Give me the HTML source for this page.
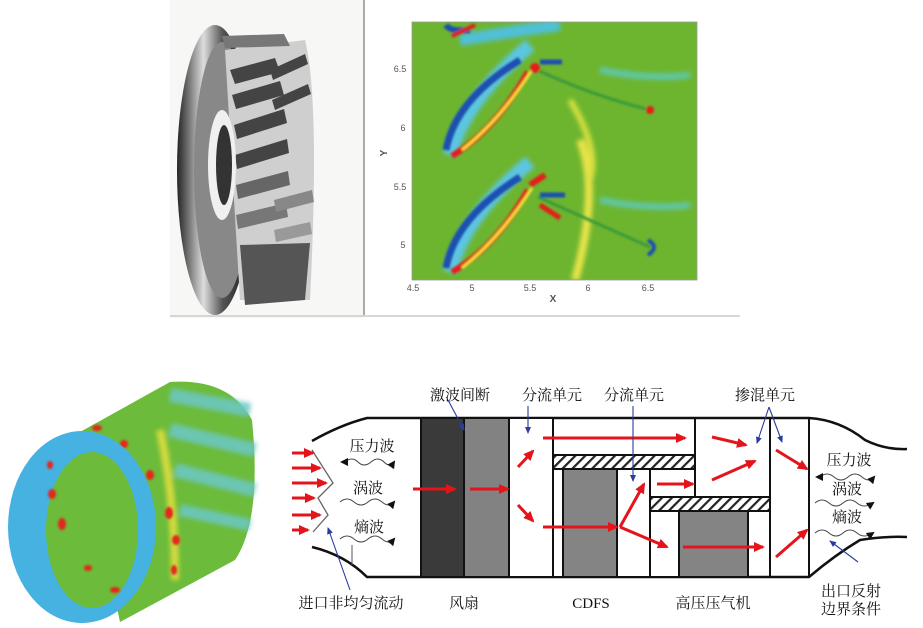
<!DOCTYPE html>
<html><head><meta charset="utf-8"><style>
html,body{margin:0;padding:0;background:#fff;}
svg{display:block;}
text{font-family:"Liberation Serif","Noto Serif CJK SC","Noto Sans CJK SC",serif;}
</style></head><body>
<svg width="923" height="628" viewBox="0 0 923 628" xmlns="http://www.w3.org/2000/svg">
<defs>
<filter id="bl" x="-20%" y="-20%" width="140%" height="140%"><feGaussianBlur stdDeviation="2.5"/></filter>
<filter id="bl2" x="-20%" y="-20%" width="140%" height="140%"><feGaussianBlur stdDeviation="1"/></filter>
<pattern id="hatch" width="7" height="7" patternUnits="userSpaceOnUse" patternTransform="rotate(45)">
<rect width="7" height="7" fill="#fff"/><rect width="2.2" height="7" fill="#222"/></pattern>
<marker id="ra" markerWidth="11" markerHeight="10" refX="9" refY="5" orient="auto" markerUnits="userSpaceOnUse"><path d="M0,0 L11,5 L0,10 z" fill="#e4141c"/></marker>
<marker id="ba" markerWidth="8" markerHeight="8" refX="6" refY="4" orient="auto" markerUnits="userSpaceOnUse"><path d="M0,1 L7,4 L0,7 z" fill="#2a3c9c"/></marker>
<marker id="ka" markerWidth="8" markerHeight="8" refX="6" refY="4" orient="auto" markerUnits="userSpaceOnUse"><path d="M0,0 L8,4 L0,8 z" fill="#111"/></marker>
<linearGradient id="tg" x1="0" x2="1"><stop offset="0" stop-color="#222"/><stop offset=".35" stop-color="#ddd"/><stop offset=".6" stop-color="#555"/><stop offset="1" stop-color="#111"/></linearGradient>
</defs>

<!-- TYRE / ROTOR IMAGE -->
<rect x="170" y="0" width="194" height="318" fill="#f7f7f5"/>
<line x1="364" y1="0" x2="364" y2="315" stroke="#aaa" stroke-width="2"/>
<line x1="170" y1="316" x2="740" y2="316" stroke="#ccc" stroke-width="1.5"/>
<g>
<ellipse cx="215" cy="170" rx="38" ry="145" fill="url(#tg)"/>
<ellipse cx="222" cy="170" rx="28" ry="128" fill="#888"/>
<path d="M225 50 L305 40 Q320 100 310 300 L240 300 Z" fill="#cfcfcf"/>
<g fill="#444">
<path d="M230 70 l45 -12 l5 14 l-45 12z"/><path d="M232 95 l48 -14 l4 14 l-48 14z"/>
<path d="M234 125 l50 -16 l3 14 l-50 16z"/><path d="M235 155 l52 -16 l2 14 l-52 16z"/>
<path d="M236 185 l52 -14 l2 14 l-52 14z" fill="#666"/><path d="M236 215 l50 -12 l2 14 l-50 12z" fill="#777"/>
<path d="M270 70 l35 -16 l3 10 l-35 16z"/><path d="M272 100 l36 -16 l3 10 l-36 16z"/>
<path d="M274 200 l38 -10 l2 12 l-38 10z" fill="#888"/><path d="M274 230 l36 -8 l2 12 l-36 8z" fill="#999"/>
</g>
<path d="M222 36 L284 34 L290 46 L225 48 Z" fill="#777"/>
<path d="M240 245 L310 243 L305 300 L245 305 Z" fill="#555"/>
<ellipse cx="222" cy="165" rx="14" ry="55" fill="#f0f0f0"/>
<ellipse cx="224" cy="165" rx="8" ry="40" fill="#333"/>
</g>

<!-- CFD CONTOUR PLOT -->
<clipPath id="cp"><rect x="412" y="22" width="285" height="258"/></clipPath>
<rect x="412" y="22" width="285" height="258" fill="#6db52f"/>
<g clip-path="url(#cp)">
<g filter="url(#bl)">
<path d="M460 40 Q520 30 560 25" stroke="#4fc0d8" stroke-width="12" fill="none"/>
<path d="M580 140 Q600 190 575 280" stroke="#e8e44a" stroke-width="8" fill="none"/>
<path d="M570 100 Q600 150 590 180" stroke="#d8e040" stroke-width="6" fill="none"/>
<path d="M600 70 Q650 80 690 75" stroke="#5ec8b0" stroke-width="6" fill="none"/>
<path d="M600 200 Q650 210 690 205" stroke="#5ec8b0" stroke-width="6" fill="none"/>
<path d="M450 155 Q465 100 530 45" stroke="#5cc6e2" stroke-width="14" fill="none"/>
<path d="M450 272 Q465 215 530 162" stroke="#5cc6e2" stroke-width="14" fill="none"/>
</g>
<g filter="url(#bl2)">
<path d="M446 150 Q455 100 520 60" stroke="#1b4fb0" stroke-width="7" fill="none"/>
<path d="M452 156 Q495 130 528 72" stroke="#e61c1c" stroke-width="6" fill="none"/>
<path d="M462 150 Q500 120 532 70" stroke="#f7e23a" stroke-width="3" fill="none"/>
<path d="M533 68 Q590 95 650 110" stroke="#3a9a3a" stroke-width="3" fill="none"/>
<path d="M540 62 L562 62" stroke="#1b4fb0" stroke-width="5"/>
<circle cx="535" cy="68" r="5" fill="#e61c1c"/>
<circle cx="650" cy="110" r="4" fill="#e61c1c"/>
<path d="M446 268 Q455 218 520 177" stroke="#1b4fb0" stroke-width="7" fill="none"/>
<path d="M452 272 Q495 248 528 190" stroke="#e61c1c" stroke-width="6" fill="none"/>
<path d="M462 268 Q500 238 532 188" stroke="#f7e23a" stroke-width="3" fill="none"/>
<path d="M538 197 Q590 220 650 247" stroke="#3a9a3a" stroke-width="3" fill="none"/>
<path d="M540 195 L565 195" stroke="#1b4fb0" stroke-width="5"/>
<path d="M540 205 L560 218" stroke="#e61c1c" stroke-width="5"/>
<path d="M530 185 L545 175" stroke="#e61c1c" stroke-width="6"/>
<path d="M648 240 Q660 247 648 255" stroke="#1b4fb0" stroke-width="4" fill="none"/>
<path d="M446 25 Q450 32 470 30" stroke="#1b4fb0" stroke-width="6" fill="none"/>
<path d="M452 36 L475 25" stroke="#e61c1c" stroke-width="4"/>
</g>
</g>
<rect x="412" y="22" width="285" height="258" fill="none" stroke="#999" stroke-width="0.8"/>
<g font-size="9" fill="#555" text-anchor="middle" style="font-family:'Liberation Sans',sans-serif">
<text x="400" y="72" style="font-family:'Liberation Sans',sans-serif">6.5</text>
<text x="403" y="131" style="font-family:'Liberation Sans',sans-serif">6</text>
<text x="400" y="190" style="font-family:'Liberation Sans',sans-serif">5.5</text>
<text x="403" y="248" style="font-family:'Liberation Sans',sans-serif">5</text>
<text x="413" y="291" style="font-family:'Liberation Sans',sans-serif">4.5</text>
<text x="472" y="291" style="font-family:'Liberation Sans',sans-serif">5</text>
<text x="530" y="291" style="font-family:'Liberation Sans',sans-serif">5.5</text>
<text x="588" y="291" style="font-family:'Liberation Sans',sans-serif">6</text>
<text x="648" y="291" style="font-family:'Liberation Sans',sans-serif">6.5</text>
<text x="553" y="302" font-weight="bold" font-size="10" style="font-family:'Liberation Sans',sans-serif">X</text>
<text x="0" y="0" font-weight="bold" font-size="10" transform="translate(387,153) rotate(-90)" style="font-family:'Liberation Sans',sans-serif">Y</text>
</g>

<!-- TORUS -->
<g>
<path d="M80 432 L170 382 Q230 378 252 420 Q262 520 235 560 L120 622 Z" fill="#6cbb3a"/>
<g filter="url(#bl)" opacity="0.85">
<path d="M170 395 L250 410" stroke="#6cc8c8" stroke-width="14"/>
<path d="M170 430 L255 450" stroke="#6cc8c8" stroke-width="14"/>
<path d="M175 470 L255 490" stroke="#6cc8c8" stroke-width="14"/>
<path d="M180 510 L250 525" stroke="#6cc8c8" stroke-width="12"/>
<path d="M160 430 Q175 500 175 580" stroke="#e6e040" stroke-width="8" fill="none"/>
</g>
<g fill="#e4261c" filter="url(#bl2)">
<ellipse cx="97" cy="428" rx="5" ry="3"/><ellipse cx="124" cy="444" rx="4" ry="4"/>
<ellipse cx="150" cy="475" rx="4" ry="5"/><ellipse cx="169" cy="513" rx="4" ry="6"/>
<ellipse cx="176" cy="540" rx="4" ry="5"/><ellipse cx="174" cy="570" rx="3" ry="5"/>
</g>
<ellipse cx="82" cy="527" rx="74" ry="96" fill="#45b2e2"/>
<ellipse cx="92" cy="530" rx="46" ry="78" fill="#6cbb3a"/>
<g fill="#e4261c" filter="url(#bl2)">
<ellipse cx="50" cy="465" rx="3" ry="4"/><ellipse cx="52" cy="494" rx="4" ry="5"/>
<ellipse cx="62" cy="524" rx="4" ry="6"/><ellipse cx="88" cy="568" rx="4" ry="3"/><ellipse cx="115" cy="590" rx="5" ry="3"/>
</g>
</g>

<!-- ENGINE SCHEMATIC -->
<g stroke="#111" fill="none" stroke-width="2.5">
<path d="M312 441 Q340 425 367 418 L809 418 Q840 420 865 440 Q885 450 907 449"/>
<path d="M312 547 Q345 555 367 577 L809 577 Q835 555 860 540 Q885 536 907 537"/>
</g>
<rect x="421" y="418" width="43" height="159" fill="#3a3a3a" stroke="#111" stroke-width="2"/>
<rect x="464" y="418" width="45" height="159" fill="#828282" stroke="#111" stroke-width="2"/>
<rect x="509" y="418" width="44" height="159" fill="#fff" stroke="#111" stroke-width="2"/>
<rect x="553" y="455" width="142" height="14" fill="url(#hatch)" stroke="#111" stroke-width="2"/>
<rect x="553" y="469" width="10" height="108" fill="#fff" stroke="#111" stroke-width="2"/>
<rect x="563" y="469" width="54" height="108" fill="#848484" stroke="#111" stroke-width="2"/>
<rect x="617" y="469" width="33" height="108" fill="#fff" stroke="#111" stroke-width="2"/>
<line x1="695" y1="418" x2="695" y2="497" stroke="#111" stroke-width="2"/>
<rect x="650" y="497" width="120" height="14" fill="url(#hatch)" stroke="#111" stroke-width="2"/>
<rect x="650" y="511" width="29" height="66" fill="#fff" stroke="#111" stroke-width="2"/>
<rect x="679" y="511" width="69" height="66" fill="#848484" stroke="#111" stroke-width="2"/>
<line x1="770" y1="418" x2="770" y2="577" stroke="#111" stroke-width="2"/>
<line x1="809" y1="418" x2="809" y2="577" stroke="#111" stroke-width="2"/>
<line x1="352" y1="545" x2="352" y2="565" stroke="#555" stroke-width="1"/>

<path d="M312 450 L333 483 L318 498 L328 515 L313 532" stroke="#666" stroke-width="1.3" fill="none"/>

<g stroke="#e4141c" stroke-width="3" fill="none" marker-end="url(#ra)">
<line x1="292" y1="453" x2="313" y2="453"/><line x1="292" y1="468" x2="320" y2="468"/>
<line x1="292" y1="483" x2="326" y2="483"/><line x1="292" y1="498" x2="314" y2="498"/>
<line x1="292" y1="515" x2="320" y2="515"/><line x1="292" y1="530" x2="308" y2="530"/>
<line x1="413" y1="489" x2="455" y2="489"/><line x1="470" y1="489" x2="508" y2="489"/>
<line x1="518" y1="467" x2="533" y2="451"/><line x1="518" y1="505" x2="533" y2="521"/>
<line x1="543" y1="438" x2="685" y2="438"/>
<line x1="543" y1="527" x2="617" y2="527"/>
<line x1="620" y1="527" x2="644" y2="484"/>
<line x1="620" y1="527" x2="667" y2="547"/>
<line x1="657" y1="484" x2="693" y2="484"/>
<line x1="712" y1="437" x2="746" y2="445"/>
<line x1="712" y1="480" x2="755" y2="461"/>
<line x1="683" y1="547" x2="763" y2="547"/>
<line x1="776" y1="450" x2="807" y2="469"/>
<line x1="776" y1="557" x2="807" y2="530"/>
</g>

<g stroke="#2a3c9c" stroke-width="1.1" fill="none" marker-end="url(#ba)">
<line x1="448" y1="400" x2="464" y2="430"/>
<line x1="528" y1="406" x2="528" y2="433"/>
<line x1="633" y1="406" x2="633" y2="481"/>
<line x1="769" y1="407" x2="757" y2="443"/>
<line x1="769" y1="407" x2="782" y2="442"/>
<line x1="350" y1="590" x2="328" y2="528"/>
<line x1="858" y1="562" x2="830" y2="541"/>
</g>

<g stroke="#444" stroke-width="1" fill="none">
<path d="M345 462 q7 -6 13 0 t13 0 t13 0 t10 0" marker-end="url(#ka)"/>
<path d="M340 502 q7 -6 14 0 t14 0 t14 0 t12 0" marker-end="url(#ka)"/>
<path d="M340 539 q7 -6 14 0 t14 0 t14 0 t12 0" marker-end="url(#ka)"/>
<path d="M820 477 q7 -6 14 0 t14 0 t14 0 t12 0" marker-end="url(#ka)"/>
<path d="M815 503 q7 -6 14 0 t14 0 t14 0 t16 0" marker-end="url(#ka)"/>
<path d="M815 533 q7 -6 14 0 t14 0 t14 0 t16 0" marker-end="url(#ka)"/>
</g>
<g fill="#111" stroke="none">
<path d="M340 462 l8 -4 l0 8z"/><path d="M815 477 l8 -4 l0 8z"/>
</g>

<g font-size="15" fill="#111" text-anchor="middle">
<text x="372" y="451">压力波</text>
<text x="368" y="493">涡波</text>
<text x="369" y="532">熵波</text>
<text x="849" y="465">压力波</text>
<text x="847" y="494">涡波</text>
<text x="847" y="522">熵波</text>
<text x="460" y="400">激波间断</text>
<text x="552" y="400">分流单元</text>
<text x="634" y="400">分流单元</text>
<text x="765" y="400">掺混单元</text>
<text x="351" y="608">进口非均匀流动</text>
<text x="464" y="608">风扇</text>
<text x="591" y="608" style="font-family:'Liberation Serif',serif">CDFS</text>
<text x="713" y="608">高压压气机</text>
<text x="851" y="596">出口反射</text>
<text x="851" y="614">边界条件</text>
</g>
</svg>
</body></html>
